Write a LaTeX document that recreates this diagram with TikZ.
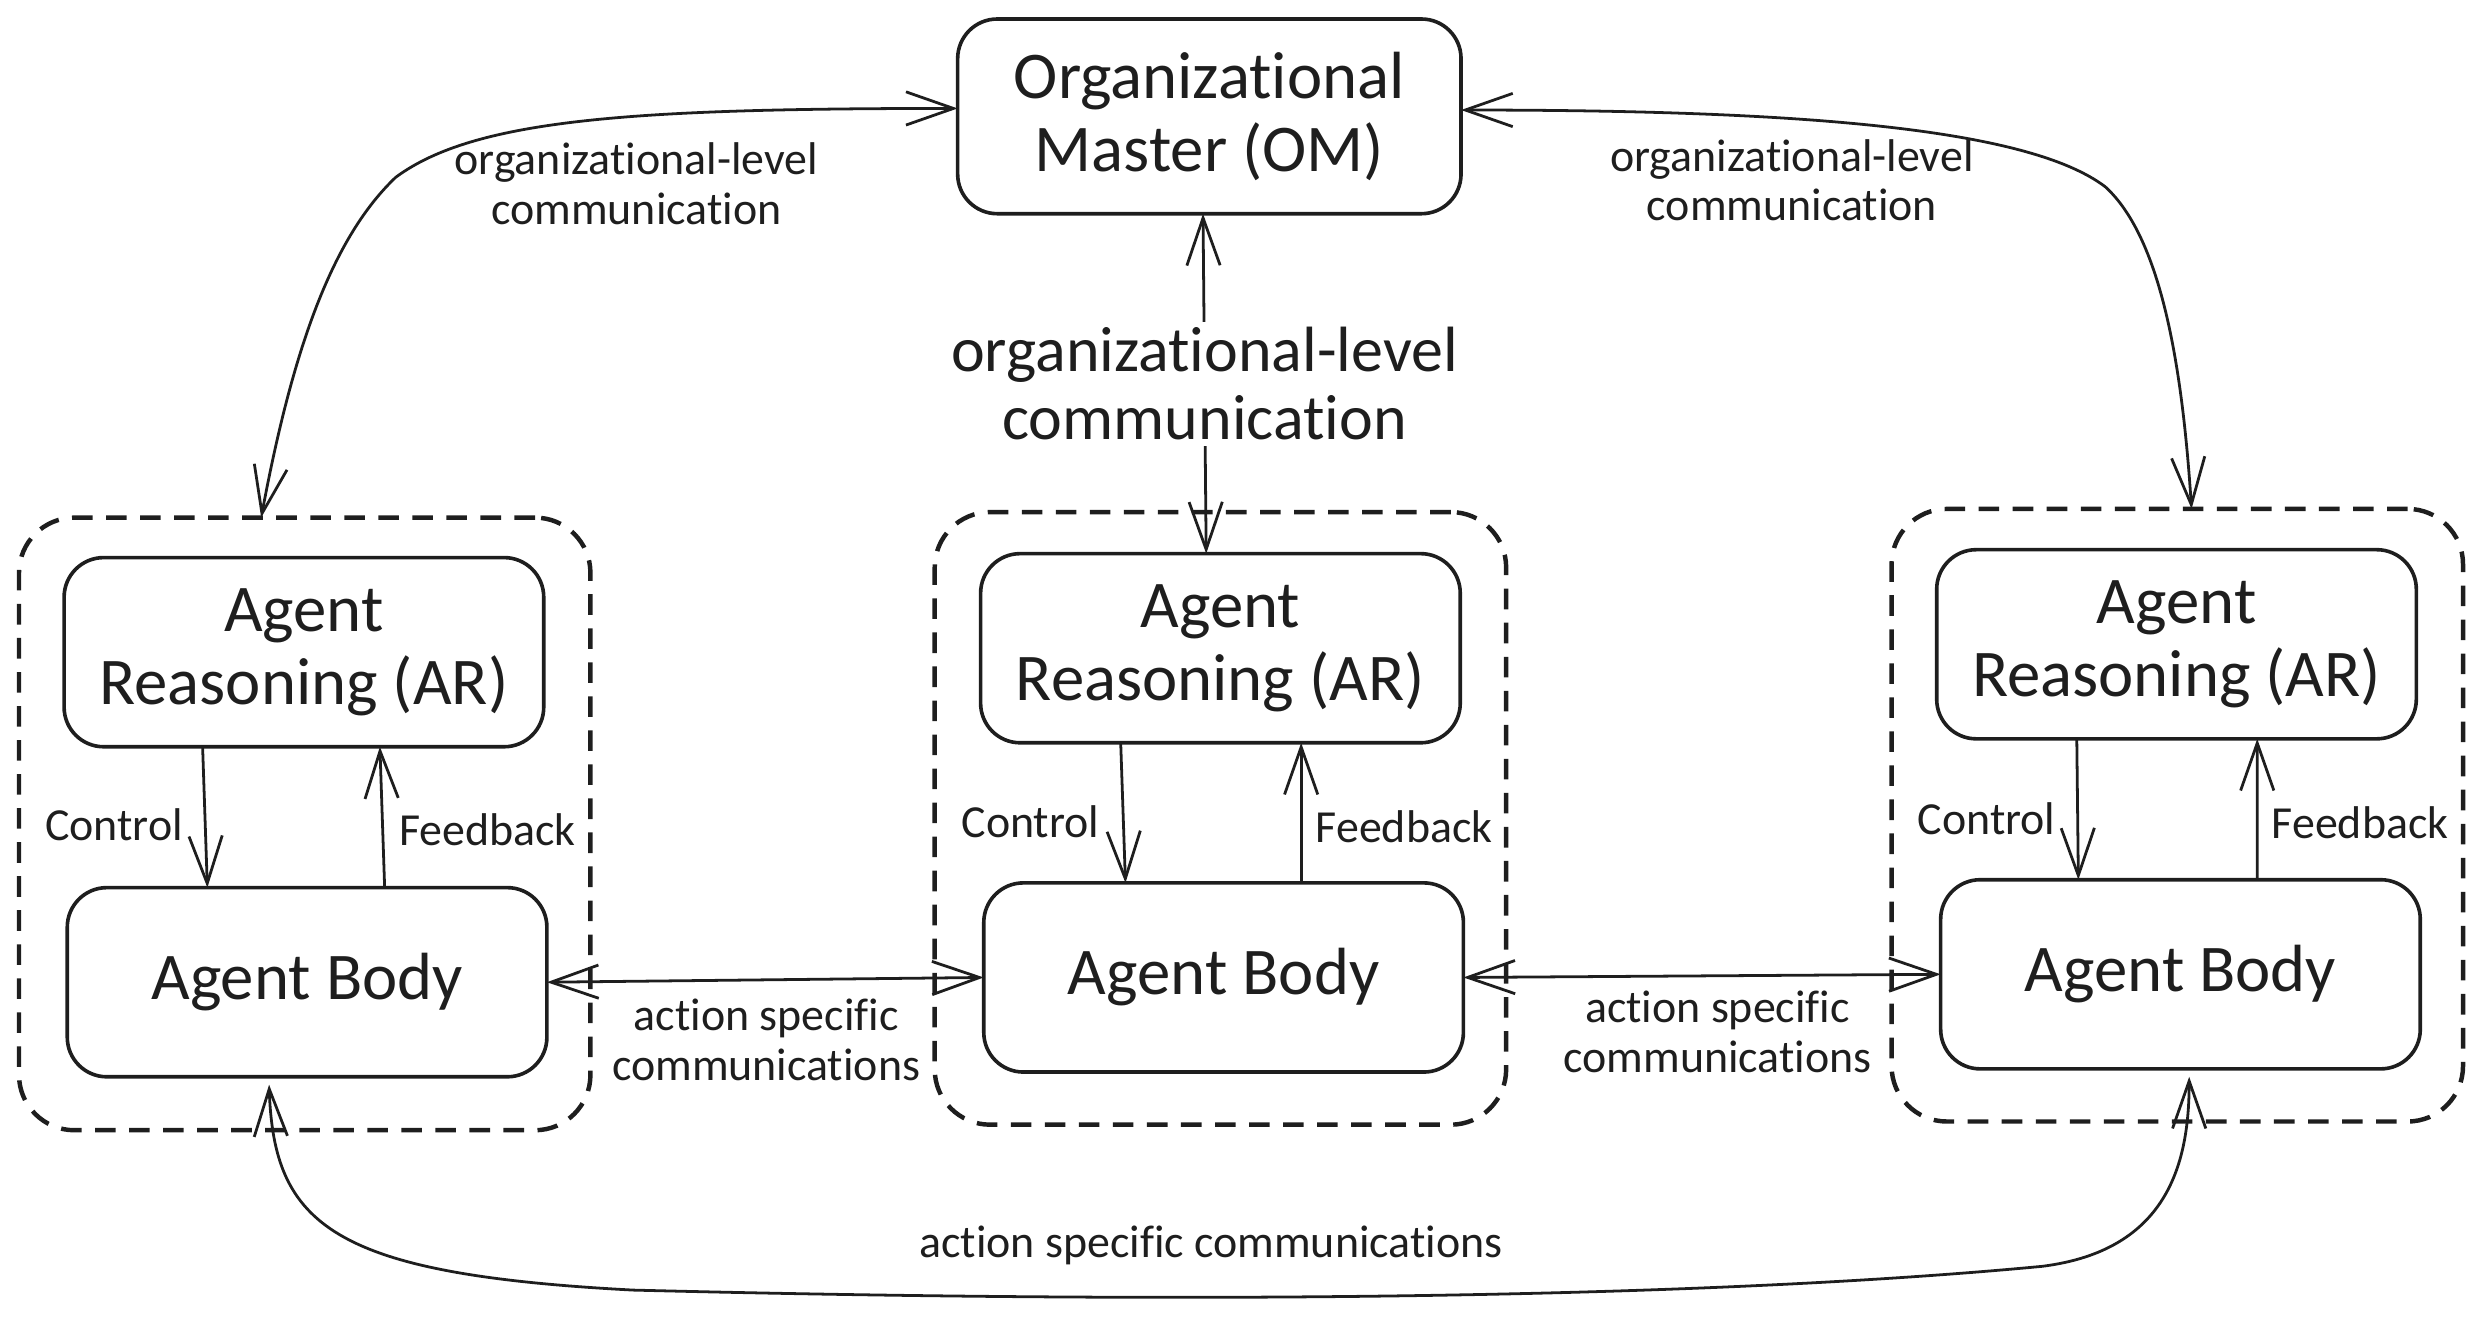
\documentclass[tikz,border=0pt]{standalone}
\usepackage{fontspec}
\setmainfont{Carlito}[RawFeature={-liga;-clig;-calt;-dlig;-rlig}]
\usetikzlibrary{arrows.meta,calc}
\definecolor{ink}{HTML}{1E1E1E}
\begin{document}
\begin{tikzpicture}[x=0.2mm,y=-0.2mm,color=ink,
  box/.style={draw, line width=1.3pt, rounded corners=5mm, minimum width=60.6mm, minimum height=23.9mm, align=center, inner sep=0pt, outer sep=0pt, font=\fontsize{24}{26}\selectfont},
  ombox/.style={box, minimum width=63.6mm, minimum height=24.6mm},
  group/.style={draw, line width=1.6pt, dash pattern=on 2.6mm off 1.7mm, rounded corners=7mm, minimum width=72.2mm, minimum height=77.4mm, inner sep=0pt, outer sep=0pt},
  tipb/.tip={Straight Barb[length=6mm,width=4.2mm]},
  conn/.style={line width=1pt, -tipb},
  biconn/.style={line width=1pt, tipb-tipb},
  lbl/.style={font=\fontsize{16.5}{17.8}\selectfont, align=center, inner sep=1pt},
  biglbl/.style={font=\fontsize{23}{24.5}\selectfont, align=center, fill=white, inner sep=2pt},
]
\useasboundingbox (0,0) rectangle (1568,832);

% nodes
\node[ombox] (om) at (764,73.5) {Organizational\\Master (OM)};

\node[group] (c1) at (192.5,520.5) {};
\node[box] (ar1) at (192,412) {Agent\\Reasoning (AR)};
\node[box] (b1) at (194,620.5) {Agent Body};

\node[group] (c2) at (771,517) {};
\node[box] (ar2) at (771,409.5) {Agent\\Reasoning (AR)};
\node[box] (b2) at (773,617.5) {Agent Body};

\node[group] (c3) at (1375.5,515) {};
\node[box] (ar3) at (1375,407) {Agent\\Reasoning (AR)};
\node[box] (b3) at (1377.5,615.5) {Agent Body};

% control / feedback
\draw[conn] ($(ar1.south)+(-64,0)$) -- ($(b1.north)+(-63,0)$);
\draw[conn] ($(b1.north)+(49,0)$) -- ($(ar1.south)+(48,0)$);
\draw[conn] ($(ar2.south)+(-63,0)$) -- ($(b2.north)+(-62,0)$);
\draw[conn] ($(b2.north)+(49,0)$) -- ($(ar2.south)+(51,0)$);
\draw[conn] ($(ar3.south)+(-63,0)$) -- ($(b3.north)+(-64.5,0)$);
\draw[conn] ($(b3.north)+(48.5,0)$) -- ($(ar3.south)+(51,0)$);

\node[lbl] (ctl1) at (72,521) {Control};
\node[lbl] (fb1) at (308,524) {Feedback};
\node[lbl] (ctl2) at (651,519) {Control};
\node[lbl] (fb2) at (887,522) {Feedback};
\node[lbl] (ctl3) at (1255,517) {Control};
\node[lbl] (fb3) at (1491,520) {Feedback};

% organizational-level links
\draw[biconn] ($(om.west)+(0,-5)$) .. controls +(-205,0) and +(50,-37) .. (250,112)
  .. controls +(-40,38) and +(20,-107) .. ($(c1.north)+(-27.5,0)$);
\draw[biconn] ($(om.east)+(0,-4)$) .. controls +(207,0) and +(-50,-38) .. (1330,118)
  .. controls +(35,32) and +(-6,-92) .. ($(c3.north)+(9,0)$);
\draw[biconn] ($(om.south)+(-4,0)$) -- node[biglbl] (midlbl) {organizational-level\\communication} ($(ar2.north)+(-9,0)$);

\node[lbl] (orgl) at (402,116) {organizational-level\\communication};
\node[lbl] (orgr) at (1132,114) {organizational-level\\communication};

% action specific links
\draw[biconn] (b1.east) -- (b2.west);
\draw[biconn] (b2.east) -- (b3.west);
\node[lbl] (actl) at (484,657) {action specific\\communications};
\node[lbl] (actr) at (1085,652) {action specific\\communications};

\draw[biconn] ($(b1.south)+(-24,5)$) .. controls +(3,89) and +(-190,-10) .. (400,815)
  .. controls +(400,10) and +(-190,18) .. (1290,800)
  .. controls +(80,-10) and +(0,54) .. ($(b3.south)+(5.5,5)$);
\node[lbl] (actb) at (765,787) {action specific communications};
\end{tikzpicture}
\end{document}
